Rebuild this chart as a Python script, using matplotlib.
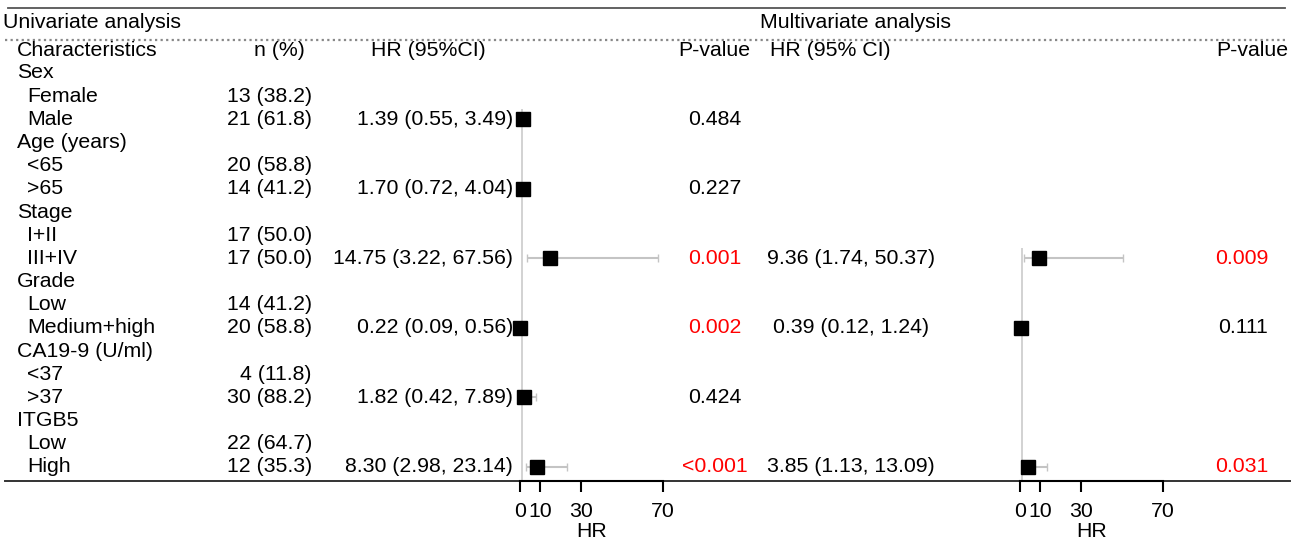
import numpy as np
import matplotlib.pyplot as plt

plt.rcParams['font.family'] = ['Liberation Sans', 'DejaVu Sans']

# table data
labels = ['Sex', 'Female', 'Male', 'Age (years)', '<65', '>65', 'Stage', 'I+II', 'III+IV',
          'Grade', 'Low', 'Medium+high', 'CA19-9 (U/ml)', '<37', '>37', 'ITGB5', 'Low', 'High']
is_sub = [0, 1, 1, 0, 1, 1, 0, 1, 1, 0, 1, 1, 0, 1, 1, 0, 1, 1]
n_pct = ['', '13 (38.2)', '21 (61.8)', '', '20 (58.8)', '14 (41.2)', '', '17 (50.0)', '17 (50.0)',
         '', '14 (41.2)', '20 (58.8)', '', '4 (11.8)', '30 (88.2)', '', '22 (64.7)', '12 (35.3)']

# univariate: row index -> values
uni_rows = [2, 5, 8, 11, 14, 17]
uni_hr = [1.39, 1.70, 14.75, 0.22, 1.82, 8.30]
uni_lo = [0.55, 0.72, 3.22, 0.09, 0.42, 2.98]
uni_hi = [3.49, 4.04, 67.56, 0.56, 7.89, 23.14]
uni_p = ['0.484', '0.227', '0.001', '0.002', '0.424', '<0.001']

# multivariate
multi_rows = [8, 11, 17]
multi_hr = [9.36, 0.39, 3.85]
multi_lo = [1.74, 0.12, 1.13]
multi_hi = [50.37, 1.24, 13.09]
multi_p = ['0.009', '0.111', '0.031']

hr_ticks = [0, 10, 30, 70]

W, H = 1301, 540
fig = plt.figure(figsize=(W / 100, H / 100), dpi=100)
ax = fig.add_axes([0, 0, 1, 1])
ax.set_xlim(0, W)
ax.set_ylim(H, 0)
ax.axis('off')

fs = 15.3
y0, step = 73, (467 - 73) / 17
ys = [y0 + step * i for i in range(len(labels))]

def fmt_ci(h, l, u):
    return f'{h:.2f} ({l:.2f}, {u:.2f})'

def red_p(p):
    return float(p.replace('<', '')) < 0.05

# rules
ax.plot([8, 1285], [8, 8], color='#555555', lw=1.3)
ax.plot([5, 1288], [40, 40], color='#888888', lw=1.6, ls=(0, (1, 1.5)))
ax.plot([5, 1290], [481, 481], color='#333333', lw=1.4)

# headers
ax.text(3, 23, 'Univariate analysis', fontsize=fs, va='center')
ax.text(855, 23, 'Multivariate analysis', fontsize=fs, va='center', ha='center')
ax.text(17, 50, 'Characteristics', fontsize=fs, va='center')
ax.text(279, 50, 'n (%)', fontsize=fs, va='center', ha='center')
ax.text(428, 50, 'HR (95%CI)', fontsize=fs, va='center', ha='center')
ax.text(678, 50, 'P-value', fontsize=fs, va='center')
ax.text(770, 50, 'HR (95% CI)', fontsize=fs, va='center')
ax.text(1288, 50, 'P-value', fontsize=fs, va='center', ha='right')

for y, lab, sub, n in zip(ys, labels, is_sub, n_pct):
    ax.text(27 if sub else 17, y, lab, fontsize=fs, va='center')
    if n:
        ax.text(312, y, n, fontsize=fs, va='center', ha='right')

for r, h, l, u, p in zip(uni_rows, uni_hr, uni_lo, uni_hi, uni_p):
    ax.text(513, ys[r], fmt_ci(h, l, u), fontsize=fs, va='center', ha='right')
    ax.text(715, ys[r], p, fontsize=fs, va='center', ha='center',
            color='red' if red_p(p) else 'black')

for r, h, l, u, p in zip(multi_rows, multi_hr, multi_lo, multi_hi, multi_p):
    ax.text(851, ys[r], fmt_ci(h, l, u), fontsize=fs, va='center', ha='center')
    ax.text(1268, ys[r], p, fontsize=fs, va='center', ha='right',
            color='red' if red_p(p) else 'black')


def forest(x_left, x_right, rows, hr, lo, hi):
    fa = fig.add_axes([x_left / W, (H - 481) / H, (x_right - x_left) / W, (481 - 60) / H])
    fa.set_xlim(0, 70)
    fa.set_ylim(481, 60)
    fa.patch.set_alpha(0)
    for s in ['top', 'right', 'left']:
        fa.spines[s].set_visible(False)
    fa.spines['bottom'].set_color('black')
    fa.spines['bottom'].set_linewidth(1.5)
    fa.set_yticks([])
    fa.set_xticks(hr_ticks)
    fa.tick_params(axis='x', length=8, width=1.5, labelsize=fs, pad=7)
    fa.set_xlabel('HR', fontsize=fs, labelpad=1)
    yy = [ys[r] for r in rows]
    fa.vlines(1, min(yy) - 10, 481, color='#cfcfcf', lw=1.3, zorder=1)
    fa.errorbar(hr, yy, xerr=[np.array(hr) - np.array(lo), np.array(hi) - np.array(hr)],
                fmt='none', ecolor='#c4c4c4', elinewidth=1.5, capsize=3, zorder=2, clip_on=False)
    fa.plot(hr, yy, 's', color='black', ms=10, zorder=3, clip_on=False)


forest(520, 663, uni_rows, uni_hr, uni_lo, uni_hi)
forest(1020, 1163, multi_rows, multi_hr, multi_lo, multi_hi)

fig.savefig('out.png', dpi=100)
